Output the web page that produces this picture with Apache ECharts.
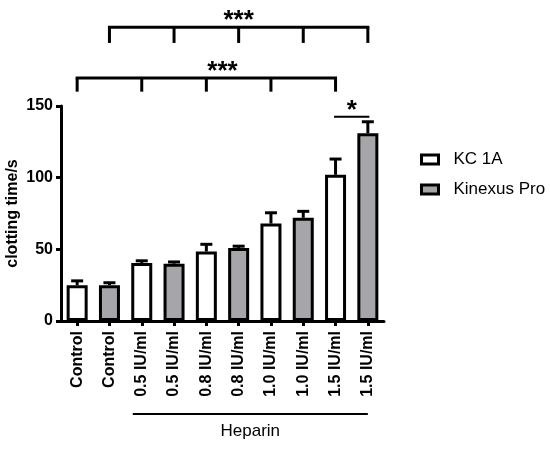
<!DOCTYPE html>
<html>
<head>
<meta charset="utf-8">
<script src="https://cdn.jsdelivr.net/npm/echarts@6/dist/echarts.min.js"></script>
<style>
  html, body { margin: 0; padding: 0; background: #fff; }
  #main { width: 550px; height: 451px; }
</style>
</head>
<body>
<div id="main"></div>
<script>
// categories on the x axis
var categories = ['Control', 'Control', '0.5 IU/ml', '0.5 IU/ml', '0.8 IU/ml', '0.8 IU/ml',
                  '1.0 IU/ml', '1.0 IU/ml', '1.5 IU/ml', '1.5 IU/ml'];
// which category each series sits on
var kcIndex = [0, 2, 4, 6, 8];
var kinIndex = [1, 3, 5, 7, 9];
// mean clotting time (s) and upper error
var kcMean = [25, 40.5, 48.5, 68, 102];
var kcErr = [3, 1.5, 5, 7.5, 11];
var kinMean = [25, 40, 51, 72, 131];
var kinErr = [1.7, 1.2, 1.2, 4.5, 8];
// y axis ticks
var yMin = 0, yMax = 150, yStep = 50;
// significance brackets (category legs, level in s, leg drop in s, mark, where the mark goes)
var bracketLegs = [[1, 3, 5, 7, 9], [0, 2, 4, 6, 8], [8, 9]];
var bracketLevel = [205, 169.5, 142.5];
var bracketDrop = [11, 9.5, 0];
var bracketMark = ['***', '***', '*'];
var bracketMarkAt = [5, 4.5, 8.5];
// heparin group under the axis
var heparinFrom = 2, heparinTo = 9;

var FONT = 'Liberation Sans, Arial, sans-serif';

function spread(idx, vals) {
    var out = categories.map(function () { return '-'; });
    idx.forEach(function (c, i) { out[c] = vals[i]; });
    return out;
}

function errData(idx, mean, err) {
    return idx.map(function (c, i) { return [c, mean[i], mean[i] + err[i]]; });
}

function renderErr(params, api) {
    var base = api.coord([api.value(0), api.value(1)]);
    var top = api.coord([api.value(0), api.value(2)]);
    var st = { stroke: '#000', lineWidth: 3 };
    return {
        type: 'group',
        children: [
            { type: 'line', shape: { x1: base[0], y1: base[1], x2: top[0], y2: top[1] }, style: st },
            { type: 'line', shape: { x1: top[0] - 6, y1: top[1], x2: top[0] + 6, y2: top[1] }, style: st }
        ]
    };
}

// x pixel of a (possibly fractional) category position
function xAt(api, c) {
    var a = api.coord([Math.floor(c), 0])[0];
    var b = api.coord([Math.ceil(c), 0])[0];
    return a + (b - a) * (c - Math.floor(c));
}

function renderBracket(params, api) {
    var i = params.dataIndex;
    var legs = bracketLegs[i];
    var yTop = api.coord([legs[0], bracketLevel[i]])[1];
    var yLeg = api.coord([legs[0], bracketLevel[i] - bracketDrop[i]])[1];
    var xs = legs.map(function (c) { return api.coord([c, 0])[0]; });
    var lw = bracketDrop[i] > 0 ? 3 : 2;
    var kids = [{
        type: 'line',
        shape: { x1: xs[0] - 1.5, y1: yTop, x2: xs[xs.length - 1] + 1.5, y2: yTop },
        style: { stroke: '#000', lineWidth: lw }
    }];
    if (bracketDrop[i] > 0) {
        xs.forEach(function (x) {
            kids.push({
                type: 'line',
                shape: { x1: x, y1: yTop, x2: x, y2: yLeg },
                style: { stroke: '#000', lineWidth: 3 }
            });
        });
    }
    kids.push({
        type: 'text',
        style: {
            x: xAt(api, bracketMarkAt[i]), y: yTop - 6,
            text: bracketMark[i], fill: '#000',
            font: 'bold 26px ' + FONT,
            textAlign: 'center', textVerticalAlign: 'middle'
        }
    });
    return { type: 'group', children: kids };
}

function renderHeparin(params, api) {
    var p0 = api.coord([heparinFrom, 0]);
    var p1 = api.coord([heparinTo, 0]);
    var y = p0[1] + 93;
    var x0 = p0[0] - 9;
    return {
        type: 'group',
        children: [
            { type: 'line', shape: { x1: x0, y1: y, x2: p1[0], y2: y }, style: { stroke: '#000', lineWidth: 2 } },
            { type: 'text', style: {
                x: (x0 + p1[0]) / 2, y: y + 17, text: 'Heparin', fill: '#000',
                font: '17px ' + FONT, textAlign: 'center', textVerticalAlign: 'middle'
            } }
        ]
    };
}

var option = {
    backgroundColor: '#fff',
    animation: false,
    textStyle: { fontFamily: FONT },
    grid: { left: 61, right: 166, top: 106, bottom: 130, outerBoundsMode: 'none' },
    legend: {
        data: ['KC 1A', 'Kinexus Pro'],
        orient: 'vertical',
        left: 415,
        top: 146,
        itemWidth: 17,
        itemHeight: 9,
        itemGap: 13,
        icon: 'rect',
        itemStyle: { borderColor: '#000', borderWidth: 3 },
        textStyle: { fontSize: 17, color: '#000', padding: [0, 0, 0, 10] }
    },
    xAxis: {
        type: 'category',
        data: categories,
        axisLine: { lineStyle: { color: '#000', width: 3 } },
        axisTick: { show: true, alignWithLabel: true, length: 5, lineStyle: { color: '#000', width: 3 } },
        axisLabel: { interval: 0, rotate: 90, margin: 10, color: '#000', fontWeight: 'bold', fontSize: 16 },
        splitLine: { show: false }
    },
    yAxis: {
        type: 'value',
        min: yMin,
        max: yMax,
        interval: yStep,
        name: 'clotting time/s',
        nameLocation: 'middle',
        nameGap: 40,
        nameMoveOverlap: false,
        nameTextStyle: { color: '#000', fontWeight: 'bold', fontSize: 16 },
        axisLine: { show: true, lineStyle: { color: '#000', width: 3 } },
        axisTick: { show: true, length: 5, lineStyle: { color: '#000', width: 3 } },
        axisLabel: { margin: 8, color: '#000', fontWeight: 'bold', fontSize: 16 },
        splitLine: { show: false }
    },
    series: [
        {
            name: 'KC 1A', type: 'bar', data: spread(kcIndex, kcMean),
            barWidth: 21, barGap: '-100%', z: 3,
            itemStyle: { color: '#fff', borderColor: '#000', borderWidth: 3 }
        },
        {
            name: 'Kinexus Pro', type: 'bar', data: spread(kinIndex, kinMean),
            barWidth: 21, barGap: '-100%', z: 3,
            itemStyle: { color: '#a6a6aa', borderColor: '#000', borderWidth: 3 }
        },
        { type: 'custom', data: errData(kcIndex, kcMean, kcErr), renderItem: renderErr, z: 2, clip: false, silent: true },
        { type: 'custom', data: errData(kinIndex, kinMean, kinErr), renderItem: renderErr, z: 2, clip: false, silent: true },
        { type: 'custom', data: bracketLevel.map(function (v, i) { return [bracketLegs[i][0], v]; }),
          renderItem: renderBracket, clip: false, silent: true },
        { type: 'custom', data: [[heparinFrom, 0]], renderItem: renderHeparin, clip: false, silent: true }
    ]
};

var chart = echarts.init(document.getElementById('main'));
chart.setOption(option);
</script>
</body>
</html>
